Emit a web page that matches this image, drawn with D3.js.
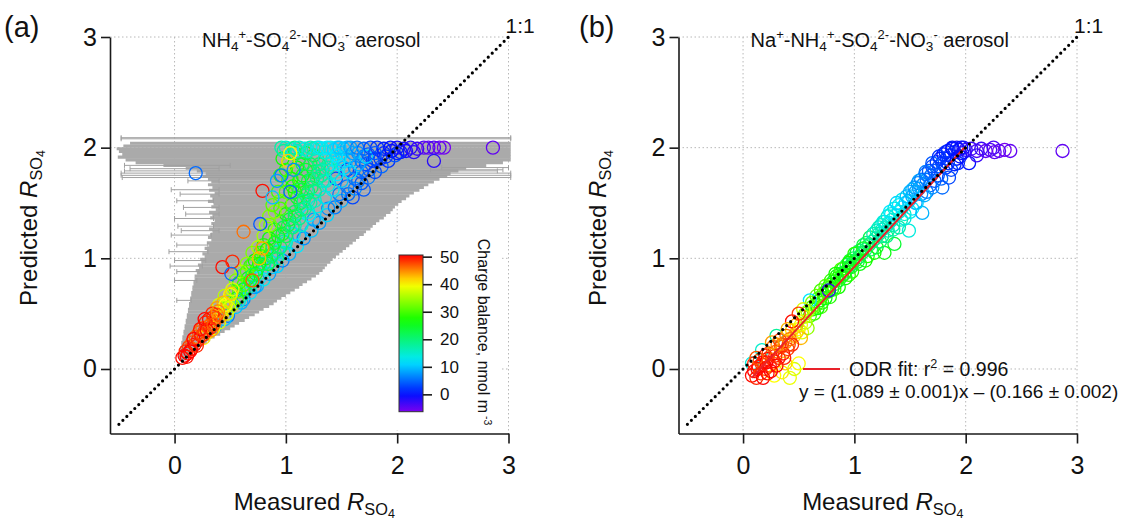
<!DOCTYPE html>
<html>
<head>
<meta charset="utf-8">
<script src="https://cdn.jsdelivr.net/npm/d3@7/dist/d3.min.js"></script>
<style>
  body { margin: 0; background: #fff; }
  svg { display: block; font-family: Arial, "Liberation Sans", sans-serif; }
</style>
</head>
<body>
<svg id="chart" width="1133" height="521"></svg>
<script>
'use strict';

// ---- data -------------------------------------------------------------
// scatter points: [measured R_SO4, predicted R_SO4, charge balance (nmol m-3)]
const pointsA = [
  // blue strip along the 1:1 line
  [0.36,0.38,8],[0.48,0.48,6],[0.55,0.56,10],[0.62,0.63,7],[0.68,0.69,12],[0.74,0.75,9],
  [0.80,0.81,13],[0.85,0.86,8],[0.92,0.93,11],[0.97,0.98,6],[1.03,1.04,9],[1.10,1.11,12],
  [1.16,1.18,7],[1.23,1.25,10],[1.30,1.32,8],[1.37,1.39,11],[1.44,1.46,6],[1.50,1.52,9],
  [1.56,1.58,5],[1.62,1.63,7],[1.68,1.68,4],[1.74,1.73,6],[1.80,1.78,3],[1.86,1.83,5],
  [1.92,1.88,2],[1.98,1.93,4],[2.03,1.96,1],[1.45,1.72,3],[1.55,1.80,2],[1.70,1.62,4],
  [1.60,1.55,3],[1.65,1.70,5],[1.75,1.80,4],[1.85,1.90,2],
  [1.55,1.65,6],[1.62,1.72,5],[1.68,1.78,4],[1.72,1.85,3],[1.78,1.88,2],[1.88,1.95,1],
  [1.95,1.97,0],[2.08,1.97,-1],[2.15,1.96,-2],[1.70,1.92,6],[1.58,1.88,8],[1.65,1.95,7],
  [1.50,1.95,10],[1.55,2.00,9],[1.25,1.35,8],[1.12,1.20,9],[0.98,1.05,11],[0.88,0.92,10],
  [0.72,0.74,8],[0.60,0.60,9],[0.45,0.45,10],[1.38,1.45,7],[1.48,1.58,6],
  [1.52,1.82,10],[1.56,1.92,9],[1.62,1.82,7],[1.68,1.88,6],[1.74,1.94,4],[1.80,1.90,3],
  [1.90,1.92,2],[0.58,0.62,14],[0.66,0.74,16],[0.76,0.82,12],
  // cyan, just left of the line
  [0.60,0.66,16],[0.70,0.78,18],[0.78,0.87,15],[0.86,0.97,17],[0.93,1.06,14],[1.00,1.14,16],
  [1.07,1.22,13],[1.14,1.30,15],[1.21,1.39,12],[1.28,1.47,14],[1.35,1.55,11],[1.42,1.62,13],
  [1.50,1.70,10],[1.58,1.78,12],[1.65,1.85,9],[1.72,1.92,11],[1.40,1.85,14],[1.48,1.90,13],
  [1.33,1.70,16],[1.20,1.52,17],[1.38,1.66,14],[1.42,1.90,15],[1.46,1.76,12],[1.26,1.52,15],
  [1.20,1.42,14],[1.08,1.30,16],[0.98,1.15,18],[0.90,1.05,19],
  // green band
  [0.55,0.70,30],[0.58,0.78,28],[0.62,0.85,31],[0.66,0.82,26],[0.68,0.93,29],[0.72,0.98,27],
  [0.74,0.90,24],[0.77,1.05,30],[0.80,1.12,28],[0.82,1.00,25],[0.85,1.18,26],[0.88,1.10,23],
  [0.90,1.26,29],[0.93,1.20,27],[0.95,1.33,25],[0.98,1.28,22],[1.00,1.40,27],[1.03,1.35,24],
  [1.05,1.48,26],[1.08,1.42,21],[1.10,1.55,25],[1.13,1.50,23],[1.15,1.62,24],[1.18,1.57,20],
  [1.20,1.70,23],[1.23,1.64,21],[1.25,1.78,22],[1.28,1.72,19],[1.30,1.85,20],[1.33,1.80,18],
  [1.00,1.60,31],[0.95,1.52,33],[1.05,1.72,29],[1.10,1.82,27],[0.90,1.42,34],[0.86,1.30,32],
  [0.80,1.20,35],[0.75,1.10,36],[0.70,1.05,33],[1.12,1.90,28],[1.02,1.85,34],[1.18,1.95,26],
  [1.25,1.93,23],[0.65,0.95,34],[0.60,0.88,36],
  [0.40,0.58,38],[0.45,0.66,36],[0.55,0.80,33],[0.58,0.70,32],[0.62,0.76,30],[0.65,0.88,31],
  [0.68,0.80,28],[0.70,0.95,30],[0.73,0.86,26],[0.76,0.95,27],[0.78,1.02,29],[0.83,1.08,27],
  [0.84,0.95,24],[0.87,1.02,22],[0.90,1.14,25],[0.92,1.00,20],[0.95,1.10,21],[0.97,1.22,24],
  [1.00,1.20,22],[1.02,1.30,23],[1.06,1.28,20],[1.08,1.38,22],[1.12,1.36,19],[1.14,1.44,21],
  [1.17,1.45,18],[1.20,1.60,22],[1.22,1.50,17],[1.26,1.60,19],[1.30,1.62,16],[1.32,1.75,18],
  [1.36,1.70,15],[1.38,1.82,17],[1.42,1.78,14],[1.47,1.85,12],[1.52,1.88,11],[0.93,1.60,30],
  [0.95,1.75,29],[0.97,1.90,27],[1.00,1.80,28],[1.06,1.65,27],[1.08,1.95,24],[1.15,1.75,25],
  [1.15,1.85,22],[1.22,1.85,21],[1.28,1.90,19],[1.35,1.90,16],[0.85,1.38,33],[0.88,1.48,31],
  [0.82,1.30,35],[0.95,1.45,30],
  [1.02,1.70,30],[1.08,1.60,28],[1.12,1.70,26],[1.18,1.80,24],[1.24,1.72,20],[1.30,1.78,18],
  [1.12,1.62,22],[1.16,1.52,19],[0.80,0.95,20],[0.70,0.85,22],[0.62,0.72,24],[0.56,0.64,28],
  [0.50,0.60,33],
  // top row, predicted close to 2
  [0.96,2.00,17],[1.00,2.00,15],[1.05,1.99,14],[1.08,2.00,19],[1.12,2.00,15],[1.17,1.99,13],
  [1.22,2.00,16],[1.28,2.00,14],[1.33,1.99,12],[1.40,2.00,13],[1.46,2.00,11],[1.52,1.99,10],
  [1.58,2.00,8],[1.64,2.00,6],[1.70,1.99,5],[1.76,2.00,3],[1.82,2.00,2],[1.88,1.99,1],
  [1.94,2.00,0],[2.00,2.00,-1],[2.06,1.99,-1],[2.12,2.00,-2],[2.18,1.99,-3],[2.24,2.00,-4],
  [2.28,2.00,-5],[2.33,2.00,-4],[2.38,2.00,-5],[2.42,2.00,-6],[2.86,2.00,-5],[2.33,1.88,-2],
  [1.60,1.95,8],[1.80,1.95,4],[2.00,1.95,1],[1.45,1.93,12],[1.35,1.96,14],
  [0.98,1.97,18],[1.10,1.97,16],[1.20,1.97,15],[1.25,1.99,16],[1.30,2.00,13],[1.37,2.00,12],
  [1.43,1.98,11],[1.48,2.00,10],
  [1.04,1.95,40],[1.02,1.88,42],
  // orange and yellow
  [0.30,0.33,42],[0.35,0.37,40],[0.40,0.42,38],[0.42,0.52,41],[0.45,0.56,39],[0.47,0.50,37],
  [0.48,0.62,36],[0.50,0.67,40],[0.44,0.60,43],[0.52,0.58,35],[0.26,0.28,41],[0.38,0.55,44],
  [0.52,0.72,38],[0.42,0.48,43],[0.44,0.52,42],[0.33,0.35,44],[0.46,0.58,40],[0.49,0.55,38],
  // red cluster near the origin
  [0.07,0.10,50],[0.09,0.12,52],[0.10,0.16,49],[0.12,0.14,51],[0.13,0.20,48],[0.15,0.18,50],
  [0.16,0.24,47],[0.18,0.22,50],[0.19,0.29,46],[0.21,0.26,49],[0.22,0.33,47],[0.24,0.30,50],
  [0.25,0.37,46],[0.27,0.34,48],[0.28,0.42,49],[0.30,0.38,47],[0.31,0.45,50],[0.33,0.41,46],
  [0.35,0.47,48],[0.36,0.43,45],[0.38,0.49,47],[0.27,0.45,51],[0.23,0.36,50],[0.34,0.50,49],
  [0.17,0.27,51],[0.40,0.47,44],
  [0.11,0.11,50],[0.14,0.16,51],[0.20,0.21,49],[0.26,0.31,48],[0.29,0.35,50],[0.32,0.37,49],
  [0.35,0.40,47],[0.37,0.46,48],[0.39,0.52,45],
  // scattered outliers
  [0.19,1.77,5],[0.79,1.61,50],[0.77,1.31,4],[0.62,1.24,46],[0.79,1.09,44],[0.43,0.92,50],
  [0.52,0.97,49],[0.51,0.86,5],[0.51,0.68,42],[0.96,1.75,6],[1.04,1.60,5],[0.92,1.70,8],
  [0.88,1.55,10],[1.07,1.80,7],[0.70,0.80,47],[0.76,1.00,43]
];

// horizontal error bars of panel (a): [predicted R_SO4, lower measured, upper measured]
const errBandA = [
  [2.040,-0.40,3.02],[2.015,-0.46,3.02],[1.990,-0.52,3.02],[1.965,-0.50,3.02],[1.940,-0.47,3.02],
  [1.915,-0.51,3.02],[1.890,-0.44,3.02],[1.865,-0.35,2.95],
  [1.840,-0.10,2.80],[1.815,0.10,2.62],[1.790,0.20,2.55],[1.765,0.28,2.48],[1.740,0.25,2.45],
  [1.715,0.30,2.38],[1.690,0.33,2.33],[1.665,0.30,2.28],[1.640,0.34,2.24],[1.615,0.31,2.20],
  [1.590,0.36,2.15],[1.565,0.32,2.11],[1.540,0.34,2.08],[1.515,0.30,2.04],[1.490,0.35,2.01],
  [1.465,0.33,1.98],[1.440,0.37,1.96],[1.415,0.31,1.94],[1.390,0.34,1.90],[1.365,0.32,1.88],
  [1.340,0.36,1.84],[1.315,0.33,1.81],[1.290,0.35,1.78],[1.265,0.31,1.76],[1.240,0.34,1.72],
  [1.215,0.32,1.70],[1.190,0.30,1.66],[1.165,0.33,1.63],[1.140,0.29,1.60],[1.115,0.31,1.57],
  [1.090,0.27,1.54],[1.065,0.29,1.51],[1.040,0.25,1.48],[1.015,0.27,1.45],[0.990,0.23,1.42],
  [0.965,0.24,1.40],[0.940,0.21,1.37],[0.915,0.22,1.35],[0.890,0.19,1.33],[0.865,0.20,1.30],
  [0.840,0.18,1.27],[0.815,0.18,1.23],[0.790,0.17,1.19],[0.765,0.17,1.15],[0.740,0.16,1.12],
  [0.715,0.16,1.08],[0.690,0.15,1.04],[0.665,0.15,1.00],[0.640,0.14,0.96],[0.615,0.14,0.92],
  [0.590,0.13,0.89],[0.565,0.13,0.85],[0.540,0.12,0.80],[0.515,0.12,0.76],[0.490,0.11,0.72],
  [0.465,0.11,0.67],[0.440,0.10,0.63],[0.415,0.10,0.58],[0.390,0.09,0.54],[0.365,0.09,0.50],
  [0.340,0.08,0.45],[0.315,0.08,0.41],[0.290,0.07,0.36],[0.265,0.07,0.32],[0.240,0.06,0.29],
  [0.215,0.06,0.25],[0.190,0.05,0.22],[0.165,0.05,0.19],[0.140,0.05,0.16],[0.115,0.04,0.13],
  [0.090,0.04,0.10]
];

// long, isolated error bars of panel (a): [predicted R_SO4, lower, upper]
const errLongA = [
  [2.09,-0.48,3.02],[2.08,-0.48,3.02],[1.84,-0.45,0.50],[1.81,-0.40,0.40],[1.79,-0.45,2.90],
  [1.77,-0.48,3.02],[1.75,-0.48,3.02],[1.73,-0.47,3.02],[1.82,2.40,3.00],[1.80,2.30,2.95],
  [1.70,0.12,0.40],[1.62,-0.03,0.40],[1.58,0.05,0.40],[1.52,0.02,0.35],[1.46,0.08,0.40],
  [1.40,0.10,0.40],[1.36,0.00,0.35],[1.29,0.03,0.35],[1.25,0.06,0.40],[1.21,-0.03,0.33],
  [1.12,0.02,0.30],[1.06,-0.05,0.30],[0.98,0.00,0.28],[0.93,-0.04,0.25],[0.88,0.02,0.22],
  [0.80,0.00,0.20],[0.62,0.02,0.15]
];

const pointsB = [
  // green
  [0.60,0.48,30],[0.63,0.54,28],[0.66,0.58,31],[0.69,0.62,27],[0.72,0.68,29],[0.75,0.70,26],
  [0.78,0.76,28],[0.81,0.79,25],[0.84,0.84,27],[0.87,0.86,24],[0.90,0.91,26],[0.93,0.94,23],
  [0.96,0.98,25],[0.99,1.00,22],[1.02,1.05,24],[1.05,1.07,21],[1.08,1.12,23],[1.11,1.14,20],
  [1.14,1.19,22],[0.70,0.56,30],[0.78,0.65,28],[0.86,0.74,27],[0.95,0.85,29],[1.05,0.95,26],
  [1.12,1.02,28],[1.18,1.05,27],[1.27,1.05,26],[1.36,1.13,24],[0.62,0.60,33],[0.74,0.75,31],
  [0.88,0.90,30],[1.00,1.04,28],[0.82,0.72,29],[0.92,0.82,27],
  [0.64,0.50,29],[0.67,0.55,27],[0.71,0.60,28],[0.74,0.64,26],[0.77,0.70,27],[0.80,0.72,25],
  [0.83,0.77,26],[0.86,0.80,24],[0.89,0.84,25],[0.92,0.88,23],[0.95,0.92,24],[0.98,0.95,22],
  [1.01,0.98,23],[1.04,1.01,21],[1.07,1.05,22],[1.10,1.08,20],[1.13,1.12,21],[1.16,1.15,19],
  [0.66,0.66,32],[0.70,0.71,30],[0.79,0.80,29],[0.83,0.86,27],[0.95,0.96,27],[1.08,1.09,25],
  [0.98,0.88,28],[1.10,0.98,27],[1.20,1.10,25],
  [0.56,0.50,33],[0.62,0.56,31],[0.68,0.64,30],[0.76,0.73,29],[0.85,0.82,28],[0.91,0.86,26],
  [0.97,0.92,25],[1.03,0.97,24],[1.15,1.08,22],[1.23,1.15,20],
  // cyan
  [1.17,1.22,17],[1.20,1.25,15],[1.24,1.30,16],[1.27,1.33,14],[1.30,1.38,15],[1.33,1.40,13],
  [1.36,1.45,14],[1.40,1.48,12],[1.25,1.20,18],[1.35,1.30,16],[1.49,1.25,14],[1.45,1.40,15],
  [1.43,1.53,13],[0.17,0.17,15],[0.08,0.05,14],[0.60,0.62,12],[0.30,0.30,18],[1.30,1.25,17],
  [1.19,1.18,18],[1.22,1.22,17],[1.25,1.26,16],[1.28,1.28,15],[1.31,1.32,14],[1.34,1.35,15],
  [1.37,1.39,13],[1.40,1.42,14],[1.43,1.46,12],[1.46,1.50,11],[1.22,1.28,16],[1.26,1.33,14],
  [1.32,1.42,12],[1.38,1.50,11],[1.42,1.35,16],[1.52,1.45,12],[1.40,1.28,17],
  [1.29,1.20,19],[1.35,1.26,17],[1.45,1.36,14],[1.50,1.42,13],
  // blue
  [1.47,1.56,10],[1.50,1.60,9],[1.54,1.64,8],[1.57,1.68,7],[1.60,1.71,6],[1.64,1.76,5],
  [1.67,1.79,4],[1.70,1.83,3],[1.74,1.87,2],[1.77,1.90,1],[1.80,1.94,0],[1.84,1.97,1],
  [1.88,2.00,0],[1.92,2.00,-1],[1.96,2.00,0],[1.55,1.50,8],[1.61,1.41,9],[1.65,1.60,6],
  [1.79,1.64,5],[1.85,1.73,3],[1.90,1.85,1],[2.03,1.86,0],[1.72,1.70,4],[1.95,1.92,0],
  [1.60,1.58,7],[1.82,1.82,2],
  [1.49,1.52,10],[1.52,1.56,9],[1.55,1.60,8],[1.58,1.63,8],[1.62,1.67,7],[1.65,1.71,6],
  [1.69,1.75,5],[1.72,1.79,4],[1.76,1.83,3],[1.79,1.86,3],[1.83,1.90,2],[1.86,1.93,1],
  [1.90,1.96,1],[1.94,1.98,0],[1.98,2.00,-1],[1.52,1.62,9],[1.58,1.70,8],[1.64,1.78,6],
  [1.70,1.86,4],[1.76,1.92,2],[1.82,1.96,1],[1.88,1.99,0],[1.68,1.66,5],[1.75,1.75,4],
  [1.84,1.86,2],[1.92,1.90,0],[1.97,1.95,-1],
  [1.56,1.50,11],[1.63,1.57,9],[1.70,1.64,7],[1.78,1.72,5],[1.87,1.80,3],[1.93,1.86,1],
  // purple plateau
  [2.00,1.98,-2],[2.05,1.99,-3],[2.10,1.97,-4],[2.14,1.99,-3],[2.18,1.97,-5],[2.22,1.98,-4],
  [2.26,1.96,-5],[2.30,1.97,-5],[2.35,1.98,-6],[2.40,1.97,-5],[2.87,1.97,-5],[2.25,2.00,-4],
  [2.10,1.93,-3],
  // yellow and orange
  [0.28,-0.06,40],[0.35,-0.03,41],[0.42,-0.08,39],[0.46,0.00,38],[0.38,0.05,42],[0.50,0.05,40],
  [0.46,0.30,42],[0.50,0.36,40],[0.53,0.33,38],[0.56,0.42,36],[0.48,0.40,44],[0.58,0.37,34],
  [0.52,0.28,43],[0.44,0.35,41],[0.48,0.33,42],[0.52,0.40,39],[0.55,0.47,37],[0.58,0.52,35],
  [0.54,0.54,38],
  // red cluster
  [0.08,-0.06,50],[0.10,-0.02,52],[0.12,-0.08,49],[0.14,0.02,51],[0.16,-0.04,48],[0.18,0.06,50],
  [0.20,0.00,47],[0.22,0.09,51],[0.24,0.03,49],[0.26,0.13,48],[0.28,0.07,50],[0.30,0.16,46],
  [0.32,0.10,49],[0.34,0.20,47],[0.36,0.14,50],[0.38,0.24,45],[0.40,0.18,48],[0.42,0.27,46],
  [0.44,0.22,49],[0.15,0.08,47],[0.20,0.12,50],[0.27,0.20,46],[0.33,0.26,48],[0.25,-0.02,51],
  [0.30,0.03,52],[0.10,0.05,49],[0.44,0.43,50],[0.50,0.50,48],
  [0.13,0.00,50],[0.17,0.04,49],[0.21,0.06,51],[0.23,0.14,48],[0.29,0.12,49],[0.35,0.22,47],
  [0.39,0.30,46],[0.41,0.22,48],[0.18,-0.08,51],[0.22,-0.04,50],[0.12,0.10,47],[0.37,0.10,49],
  [0.31,0.22,45],[0.26,0.24,44],[0.40,0.36,43],
  [0.77,0.71,-3]
];

// ODR fit of panel (b)
const fitSlope = 1.089;
const fitIntercept = -0.166;
const fitRange = [0.08, 1.99];

const axisTicks = [0, 1, 2, 3];
const chargeTicks = [0, 10, 20, 30, 40, 50];
const oneToOne = [-0.5, 3];

// ---- layout -----------------------------------------------------------
const svg = d3.select('#chart');
const domainX = [-0.58, 3];
const domainY = [-0.583, 3];
const plotTop = 37;
const plotBottom = 433.5;
const fontFamily = 'Arial, "Liberation Sans", sans-serif';

const charge = d3.scaleLinear()
  .domain([-6.3, 0, 12, 27, 40, 50.6])
  .range(['#7a00f0', '#0010ff', '#00e8ff', '#10ff00', '#ffff00', '#ff0000'])
  .clamp(true);

/**
 * Appends text pieces with sub/superscripts to a text element.
 * kinds: n normal, i italic, sub, sup, sub2 (second level subscript)
 */
const richText = (text, parts, size) => {
  const shiftOf = { n: 0, i: 0, sub: 0.22 * size, sup: -0.4 * size, sub2: 0.32 * size };
  const sizeOf = { n: size, i: size, sub: 0.68 * size, sup: 0.65 * size, sub2: 0.52 * size };
  let shift = 0;
  parts.forEach(([str, kind]) => {
    const k = kind || 'n';
    text.append('tspan')
      .attr('dy', shiftOf[k] - shift)
      .attr('font-size', sizeOf[k])
      .attr('font-style', k === 'i' ? 'italic' : null)
      .text(str);
    shift = shiftOf[k];
  });
};

const drawPanel = (left, right, cfg) => {
  const x = d3.scaleLinear().domain(domainX).range([left, right]);
  const y = d3.scaleLinear().domain(domainY).range([plotBottom, plotTop]);
  const g = svg.append('g');

  // dotted grid
  const grid = g.append('g')
    .attr('stroke', '#b8b8b8')
    .attr('stroke-width', 1)
    .attr('stroke-dasharray', '1.5,2.5');
  grid.selectAll('.gx').data(axisTicks).join('line')
    .attr('x1', (d) => x(d)).attr('x2', (d) => x(d))
    .attr('y1', y(3)).attr('y2', plotBottom);
  grid.selectAll('.gy').data(axisTicks).join('line')
    .attr('x1', left).attr('x2', x(3))
    .attr('y1', (d) => y(d)).attr('y2', (d) => y(d));

  if (cfg.before) cfg.before(g, x, y);

  // open circles coloured by charge balance
  g.append('g')
    .attr('fill', 'none')
    .attr('stroke-width', 1.3)
    .selectAll('circle')
    .data(cfg.points)
    .join('circle')
    .attr('cx', (d) => x(d[0]))
    .attr('cy', (d) => y(d[1]))
    .attr('r', 6.5)
    .attr('stroke', (d) => charge(d[2]));

  if (cfg.after) cfg.after(g, x, y);

  // 1:1 line
  g.append('line')
    .attr('x1', x(oneToOne[0])).attr('y1', y(oneToOne[0]))
    .attr('x2', x(oneToOne[1])).attr('y2', y(oneToOne[1]))
    .attr('stroke', '#000')
    .attr('stroke-width', 3.2)
    .attr('stroke-linecap', 'round')
    .attr('stroke-dasharray', '0,5.6');

  // axes
  const fmt = d3.format('d');
  const yAxis = g.append('g')
    .attr('transform', `translate(${left},0)`)
    .call(d3.axisLeft(y).tickValues(axisTicks).tickFormat(fmt)
      .tickSize(9).tickSizeOuter(0).tickPadding(4));
  const xAxis = g.append('g')
    .attr('transform', `translate(0,${plotBottom})`)
    .call(d3.axisBottom(x).tickValues(axisTicks).tickFormat(fmt)
      .tickSize(10).tickSizeOuter(0).tickPadding(13));
  [yAxis, xAxis].forEach((a) => {
    a.selectAll('path, line').attr('stroke', '#1a1a1a').attr('stroke-width', 1.6);
    a.selectAll('text')
      .attr('font-size', 25)
      .attr('fill', '#111')
      .attr('font-family', fontFamily);
  });

  // axis titles
  richText(
    g.append('text')
      .attr('x', (left + right) / 2 + 5)
      .attr('y', 510)
      .attr('text-anchor', 'middle')
      .attr('fill', '#111'),
    [['Measured '], ['R', 'i'], ['SO', 'sub'], ['4', 'sub2']],
    24,
  );
  richText(
    g.append('text')
      .attr('transform', `translate(${left - 73},228) rotate(-90)`)
      .attr('text-anchor', 'middle')
      .attr('fill', '#111'),
    [['Predicted '], ['R', 'i'], ['SO', 'sub'], ['4', 'sub2']],
    24,
  );

  // panel letter, title and 1:1 label
  g.append('text')
    .attr('x', cfg.letterX)
    .attr('y', 37)
    .attr('font-size', 29)
    .attr('fill', '#111')
    .text(cfg.letter);
  richText(
    g.append('text')
      .attr('x', (left + right) / 2 + 2)
      .attr('y', 47)
      .attr('text-anchor', 'middle')
      .attr('fill', '#111'),
    cfg.title,
    20,
  );
  g.append('text')
    .attr('x', x(3) - 3)
    .attr('y', 33)
    .attr('font-size', 21)
    .attr('fill', '#111')
    .text('1:1');
};

// ---- panel (a) --------------------------------------------------------
drawPanel(110, 508.5, {
  letter: '(a)',
  letterX: 4,
  points: pointsA,
  title: [['NH'], ['4', 'sub'], ['+', 'sup'], ['-SO'], ['4', 'sub'], ['2-', 'sup'],
    ['-NO'], ['3', 'sub'], ['-', 'sup'], [' aerosol']],
  before: (g, x, y) => {
    const bars = g.append('g').attr('stroke', '#aaaaaa');
    const rowWidth = Math.abs(y(0) - y(0.025)) + 0.4;
    bars.selectAll('.band').data(errBandA).join('line')
      .attr('x1', (d) => x(d[1])).attr('x2', (d) => x(d[2]))
      .attr('y1', (d) => y(d[0])).attr('y2', (d) => y(d[0]))
      .attr('stroke-width', rowWidth);
    const thin = bars.append('g').attr('stroke-width', 1).attr('stroke', '#a0a0a0');
    thin.selectAll('.long').data(errLongA).join('path')
      .attr('fill', 'none')
      .attr('d', (d) => {
        const yy = y(d[0]);
        return `M${x(d[1])},${yy - 2.5}V${yy + 2.5}M${x(d[1])},${yy}H${x(d[2])}`
          + `M${x(d[2])},${yy - 2.5}V${yy + 2.5}`;
      });
  },
  after: () => {
    // colour bar with white backing box
    const cb = svg.append('g');
    const cbY = d3.scaleLinear().domain([-6.3, 50.6]).range([411.7, 255]);
    cb.append('rect')
      .attr('x', 395).attr('y', 244).attr('width', 105).attr('height', 186)
      .attr('fill', '#fff');
    const grad = svg.append('defs').append('linearGradient')
      .attr('id', 'cbGrad')
      .attr('x1', 0).attr('y1', 1).attr('x2', 0).attr('y2', 0);
    d3.range(0, 1.0001, 0.05).forEach((t) => {
      grad.append('stop')
        .attr('offset', t)
        .attr('stop-color', charge(cbY.domain()[0] + t * (cbY.domain()[1] - cbY.domain()[0])));
    });
    cb.append('rect')
      .attr('x', 399).attr('y', 255).attr('width', 24).attr('height', 156.7)
      .attr('fill', 'url(#cbGrad)')
      .attr('stroke', '#333')
      .attr('stroke-width', 1);
    const cbAxis = cb.append('g')
      .attr('transform', 'translate(423,0)')
      .call(d3.axisRight(cbY).tickValues(chargeTicks).tickSize(9).tickPadding(8));
    cbAxis.select('.domain').remove();
    cbAxis.selectAll('line').attr('stroke', '#1a1a1a').attr('stroke-width', 1.6);
    cbAxis.selectAll('text')
      .attr('font-size', 17)
      .attr('fill', '#111')
      .attr('font-family', fontFamily);
    richText(
      cb.append('text')
        .attr('transform', 'translate(478,332) rotate(90)')
        .attr('text-anchor', 'middle')
        .attr('fill', '#111'),
      [['Charge balance, nmol m'], [' -3', 'sup']],
      16,
    );
  },
});

// ---- panel (b) --------------------------------------------------------
drawPanel(678.5, 1077, {
  letter: '(b)',
  letterX: 579,
  points: pointsB,
  title: [['Na'], ['+', 'sup'], ['-NH'], ['4', 'sub'], ['+', 'sup'], ['-SO'], ['4', 'sub'],
    ['2-', 'sup'], ['-NO'], ['3', 'sub'], ['-', 'sup'], [' aerosol']],
  after: (g, x, y) => {
    const fitColor = '#e8222a';
    g.append('line')
      .attr('x1', x(fitRange[0])).attr('y1', y(fitSlope * fitRange[0] + fitIntercept))
      .attr('x2', x(fitRange[1])).attr('y2', y(fitSlope * fitRange[1] + fitIntercept))
      .attr('stroke', fitColor)
      .attr('stroke-width', 2);
    // legend
    g.append('line')
      .attr('x1', 803).attr('x2', 840)
      .attr('y1', y(0)).attr('y2', y(0))
      .attr('stroke', fitColor)
      .attr('stroke-width', 2);
    richText(
      g.append('text').attr('x', 849).attr('y', 376).attr('fill', '#111'),
      [['ODR fit: r'], ['2', 'sup'], [' = 0.996']],
      19.5,
    );
    g.append('text')
      .attr('x', 799).attr('y', 398)
      .attr('font-size', 19)
      .attr('fill', '#111')
      .text(`y = (${fitSlope.toFixed(3)} ± 0.001)x – (${Math.abs(fitIntercept).toFixed(3)} ± 0.002)`);
  },
});
</script>
</body>
</html>
